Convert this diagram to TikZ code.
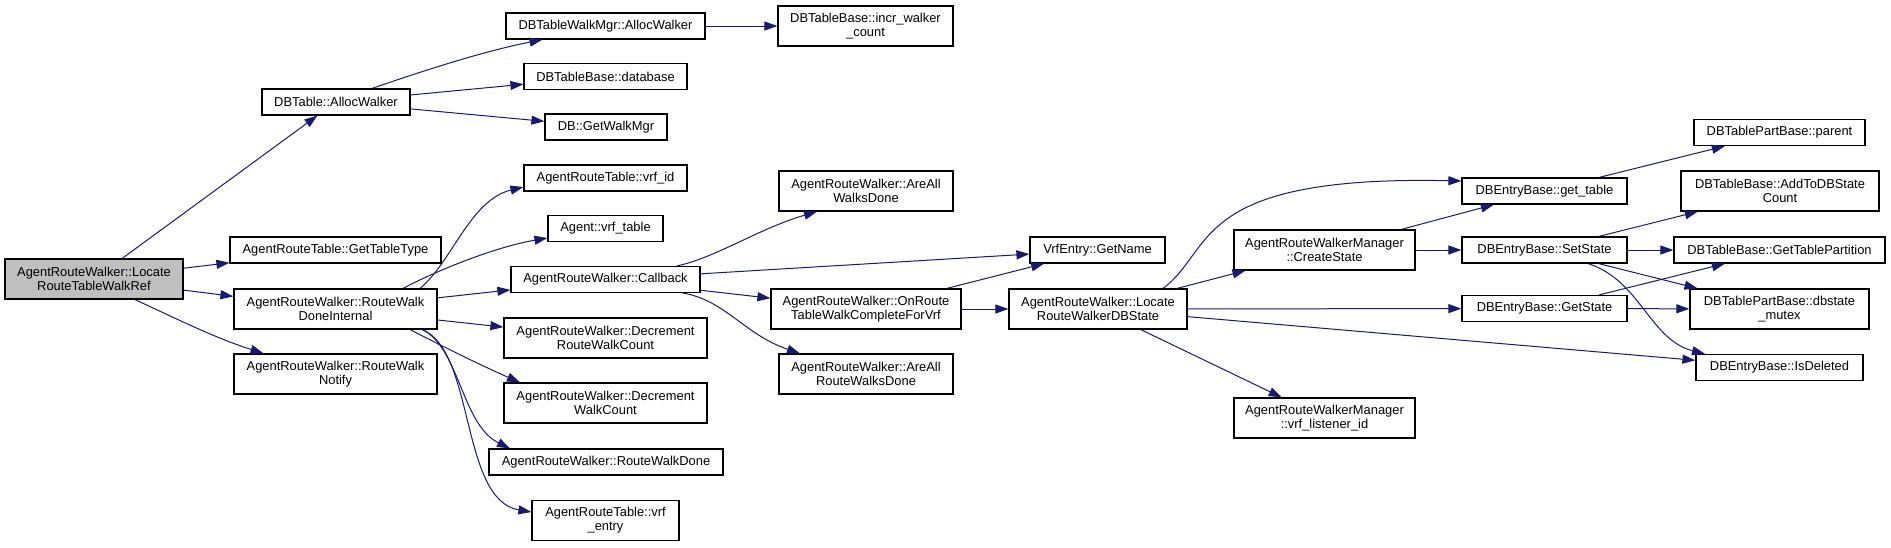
\documentclass[tikz,border=0pt]{standalone}
\usepackage{fontspec}
\setmainfont{Liberation Sans}
\usepackage{xcolor}
\usetikzlibrary{arrows.meta}
\definecolor{edgeBlue}{HTML}{191970}
\definecolor{rootGray}{HTML}{BFBFBF}

\begin{document}
\begin{tikzpicture}[x=1pt,y=-1pt,
    font=\fontsize{12.9}{14.3}\selectfont,
    fn/.style={draw=black,fill=white,line width=1.2pt,inner sep=0pt,
               align=center,minimum height=26pt},
    fn2/.style={fn,minimum height=40pt},
    edge/.style={draw=edgeBlue,line width=1pt,
                 -{Triangle[length=13pt,width=9pt]}}]
  \useasboundingbox (0,0) rectangle (1891,547);

  % column 0 and 1
  \node[fn2,fill=rootGray,minimum width=178pt] (main) at (94,279)
    {AgentRouteWalker::Locate\\RouteTableWalkRef};
  \node[fn,minimum width=148pt] (dbtalloc) at (336,102) {DBTable::AllocWalker};
  \node[fn,minimum width=211pt] (gettype) at (335.5,250) {AgentRouteTable::GetTableType};
  \node[fn2,minimum width=203pt] (rwdi) at (335.5,309) {AgentRouteWalker::RouteWalk\\DoneInternal};
  \node[fn2,minimum width=203pt] (notify) at (335.5,374) {AgentRouteWalker::RouteWalk\\Notify};

  % column 2
  \node[fn,minimum width=199pt] (walkmgr) at (605.5,26) {DBTableWalkMgr::AllocWalker};
  \node[fn,minimum width=163pt] (database) at (605.5,76.5) {DBTableBase::database};
  \node[fn,minimum width=122pt] (getwalkmgr) at (606,127) {DB::GetWalkMgr};
  \node[fn,minimum width=163pt] (vrfid) at (605.5,178) {AgentRouteTable::vrf\_id};
  \node[fn,minimum width=115pt] (vrftable) at (605.5,228.5) {Agent::vrf\_table};
  \node[fn,minimum width=189pt] (callback) at (605.5,279.5) {AgentRouteWalker::Callback};
  \node[fn2,minimum width=203pt] (decroute) at (605.5,338) {AgentRouteWalker::Decrement\\RouteWalkCount};
  \node[fn2,minimum width=203pt] (decwalk) at (605.5,403) {AgentRouteWalker::Decrement\\WalkCount};
  \node[fn,minimum width=234pt] (walkdone) at (606,462) {AgentRouteWalker::RouteWalkDone};
  \node[fn2,minimum width=147pt] (vrfentry) at (605.5,520.5) {AgentRouteTable::vrf\\\_entry};

  % column 3
  \node[fn2,minimum width=175pt] (incr) at (865.5,26) {DBTableBase::incr\_walker\\\_count};
  \node[fn2,minimum width=174pt] (allwalks) at (866,191) {AgentRouteWalker::AreAll\\WalksDone};
  \node[fn2,minimum width=190pt] (onroute) at (866,309) {AgentRouteWalker::OnRoute\\TableWalkCompleteForVrf};
  \node[fn2,minimum width=174pt] (allroute) at (866,374) {AgentRouteWalker::AreAll\\RouteWalksDone};

  % column 4 and 5
  \node[fn,minimum width=135pt] (getname) at (1097.5,250) {VrfEntry::GetName};
  \node[fn2,minimum width=178pt] (locate) at (1098,309) {AgentRouteWalker::Locate\\RouteWalkerDBState};
  \node[fn2,minimum width=181pt] (createstate) at (1324.5,250) {AgentRouteWalkerManager\\::CreateState};
  \node[fn2,minimum width=181pt] (listener) at (1324.5,418) {AgentRouteWalkerManager\\::vrf\_listener\_id};

  % column 6 and 7
  \node[fn,minimum width=165pt] (gettable) at (1544.5,191) {DBEntryBase::get\_table};
  \node[fn,minimum width=165pt] (setstate) at (1544.5,250) {DBEntryBase::SetState};
  \node[fn,minimum width=165pt] (getstate) at (1544.5,308.5) {DBEntryBase::GetState};
  \node[fn,minimum width=171pt] (parent) at (1779.5,132.5) {DBTablePartBase::parent};
  \node[fn2,minimum width=198pt] (addto) at (1780,191) {DBTableBase::AddToDBState\\Count};
  \node[fn,minimum width=211pt] (partition) at (1779.5,250) {DBTableBase::GetTablePartition};
  \node[fn2,minimum width=179pt] (mutex) at (1779.5,309) {DBTablePartBase::dbstate\\\_mutex};
  \node[fn,minimum width=167pt] (isdeleted) at (1779.5,367.5) {DBEntryBase::IsDeleted};

  % calls
  \draw[edge] (main) -- (dbtalloc);
  \draw[edge] (main) -- (gettype);
  \draw[edge] (main) -- (rwdi);
  \draw[edge] ([xshift=41pt]main.south) .. controls (175,318) and (215,338) .. ([xshift=-72pt]notify.north);

  \draw[edge] ([xshift=36pt]dbtalloc.north) .. controls (420,72) and (480,52) .. ([xshift=-63pt]walkmgr.south);
  \draw[edge] (dbtalloc) -- (database);
  \draw[edge] (dbtalloc) -- (getwalkmgr);
  \draw[edge] (walkmgr) -- (incr);

  \draw[edge] ([xshift=84.5pt]rwdi.north) .. controls (452,262) and (470,200) .. ([yshift=-9pt]vrfid.west);
  \draw[edge] ([xshift=67.5pt]rwdi.north) .. controls (430,274) and (490,248) .. ([yshift=-9.5pt]vrftable.west);
  \draw[edge] (rwdi) -- (callback);
  \draw[edge] (rwdi) -- (decroute);
  \draw[edge] ([xshift=74.5pt]rwdi.south) .. controls (440,345) and (480,365) .. ([xshift=-85.5pt]decwalk.north);
  \draw[edge] ([xshift=87.5pt]rwdi.south) .. controls (460,350) and (462,425) .. ([xshift=-96pt]walkdone.north);
  \draw[edge] ([xshift=86.5pt]rwdi.south) .. controls (475,350) and (460,500) .. ([yshift=8.5pt]vrfentry.west);

  \draw[edge] ([xshift=71.5pt]callback.north) .. controls (715,258) and (760,228) .. ([xshift=-49pt]allwalks.south);
  \draw[edge] (callback) -- (getname);
  \draw[edge] (callback) -- (onroute);
  \draw[edge] ([xshift=77.5pt]callback.south) .. controls (725,300) and (745,335) .. ([xshift=-66pt]allroute.north);

  \draw[edge] (onroute) -- (getname);
  \draw[edge] (onroute) -- (locate);

  \draw[edge] ([xshift=65pt]locate.north) .. controls (1215,250) and (1190,175) .. ([yshift=10pt]gettable.west);
  \draw[edge] (locate) -- (createstate);
  \draw[edge] (locate) -- (getstate);
  \draw[edge] (locate) -- (isdeleted);
  \draw[edge] (locate) -- (listener);

  \draw[edge] (createstate) -- (gettable);
  \draw[edge] (createstate) -- (setstate);
  \draw[edge] (gettable) -- (parent);
  \draw[edge] (setstate) -- (addto);
  \draw[edge] (setstate) -- (partition);
  \draw[edge] (setstate) -- (mutex);
  \draw[edge] ([xshift=43.5pt]setstate.south) .. controls (1640,280) and (1650,340) .. ([xshift=-74.5pt]isdeleted.north);
  \draw[edge] (getstate) -- (partition);
  \draw[edge] (getstate) -- (mutex);
\end{tikzpicture}
\end{document}
